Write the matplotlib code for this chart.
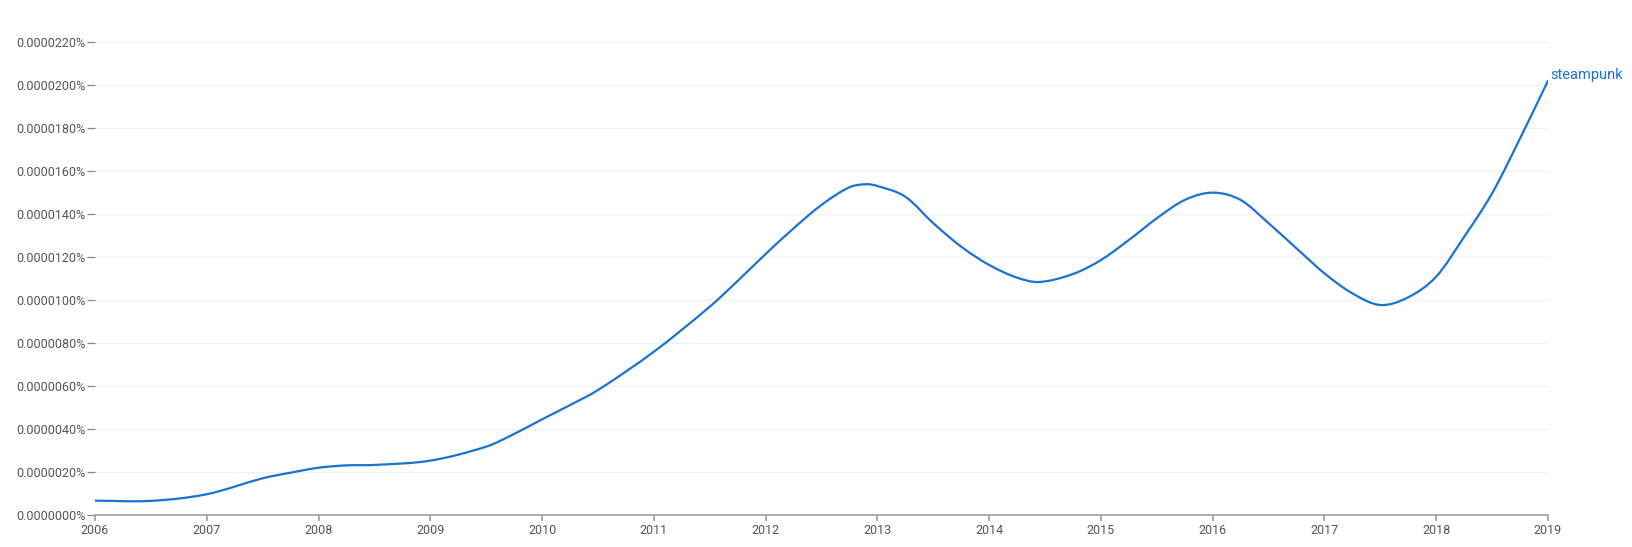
import matplotlib
matplotlib.use("Agg")
import matplotlib.pyplot as plt
from matplotlib.ticker import FuncFormatter, FixedLocator
from matplotlib.path import Path
from matplotlib.patches import PathPatch

# ---- data (values in percent) ----
years = [2006, 2006.5, 2007, 2007.5, 2007.75, 2008, 2008.25, 2008.5, 2009, 2009.5,
         2009.75, 2010, 2010.25, 2010.5, 2011, 2011.5, 2011.75, 2012, 2012.25,
         2012.5, 2012.75, 2012.9, 2013, 2013.25, 2013.5, 2013.75, 2014, 2014.25,
         2014.45, 2014.75, 2015, 2015.25, 2015.5, 2015.75, 2016, 2016.25, 2016.5,
         2016.75, 2017, 2017.25, 2017.5, 2017.75, 2018, 2018.25, 2018.5, 2018.75,
         2019]
steampunk = [6.8, 6.7, 9.8, 17.2, 19.8, 22.1, 23.2, 23.4, 25.4, 31.9,
             37.8, 44.6, 51.2, 58.2, 76.0, 96.9, 108.9, 121.4, 133.3,
             144.2, 152.4, 153.8, 153.0, 148.0, 135.7, 124.8, 116.3, 110.4,
             108.4, 112.1, 118.6, 127.9, 138.0, 146.5, 149.9, 146.5, 135.7,
             124.0, 112.4, 103.1, 97.7, 101.3, 110.9, 129.4, 149.6, 175.1,
             201.9]
steampunk = [v * 1e-7 for v in steampunk]
series_name = "steampunk"
x_ticks = list(range(2006, 2020))
y_ticks = [i * 2e-6 for i in range(12)]

# ---- style ----
W, H = 1633, 547
fig = plt.figure(figsize=(W / 100, H / 100), dpi=100)
plt.rcParams['font.family'] = ['Roboto', 'DejaVu Sans']

left, right = 95, 1548
bottom = 515.3
ymax = 2.25e-5
px_per_unit = 43.05 / 2e-6
top = bottom - ymax * px_per_unit
ax = fig.add_axes([left / W, (H - bottom) / H, (right - left) / W, (bottom - top) / H])

line_color = "#1a73d2"

# smooth curve through the data points (Catmull-Rom as cubic Bezier segments)
n = len(years)
verts = [(years[0], steampunk[0])]
codes = [Path.MOVETO]
for i in range(n - 1):
    x0, y0 = (years[i - 1], steampunk[i - 1]) if i > 0 else (years[i], steampunk[i])
    x1, y1 = years[i], steampunk[i]
    x2, y2 = years[i + 1], steampunk[i + 1]
    x3, y3 = (years[i + 2], steampunk[i + 2]) if i + 2 < n else (x2, y2)
    h = x2 - x1
    m1 = (y2 - y0) / (x2 - x0) if x2 != x0 else 0
    m2 = (y3 - y1) / (x3 - x1) if x3 != x1 else 0
    verts += [(x1 + h / 3, y1 + m1 * h / 3), (x2 - h / 3, y2 - m2 * h / 3), (x2, y2)]
    codes += [Path.CURVE4] * 3
ax.add_patch(PathPatch(Path(verts, codes), fill=False, edgecolor=line_color,
                       lw=1.6, zorder=3, capstyle='round', joinstyle='round'))

ax.set_xlim(2006, 2019)
ax.set_ylim(0, ymax)
ax.xaxis.set_major_locator(FixedLocator(x_ticks))
ax.yaxis.set_major_locator(FixedLocator(y_ticks))
ax.yaxis.set_major_formatter(FuncFormatter(lambda v, p: f"{v:.7f}%"))
ax.xaxis.set_major_formatter(FuncFormatter(lambda v, p: f"{int(round(v))}"))

for s in ["top", "right", "left"]:
    ax.spines[s].set_visible(False)
ax.spines["bottom"].set_color("#9e9e9e")
ax.spines["bottom"].set_linewidth(1.2)

ax.tick_params(axis='y', length=5.5, width=0.9, color="#888888", pad=1.5,
               labelsize=9.0, labelcolor="#555555")
ax.tick_params(axis='x', length=4, width=1.2, color="#9e9e9e", pad=2.5,
               labelsize=9.0, labelcolor="#555555")

for yt in y_ticks[1:]:
    ax.axhline(yt, color="#f0f0f0", lw=0.9, zorder=1)

ax.text(2019 + 0.02, steampunk[-1] + 0.6e-7, series_name, color=line_color, fontsize=10.5,
        ha='left', va='baseline', transform=ax.transData, clip_on=False)

fig.savefig("out.png", dpi=100, facecolor="white")
